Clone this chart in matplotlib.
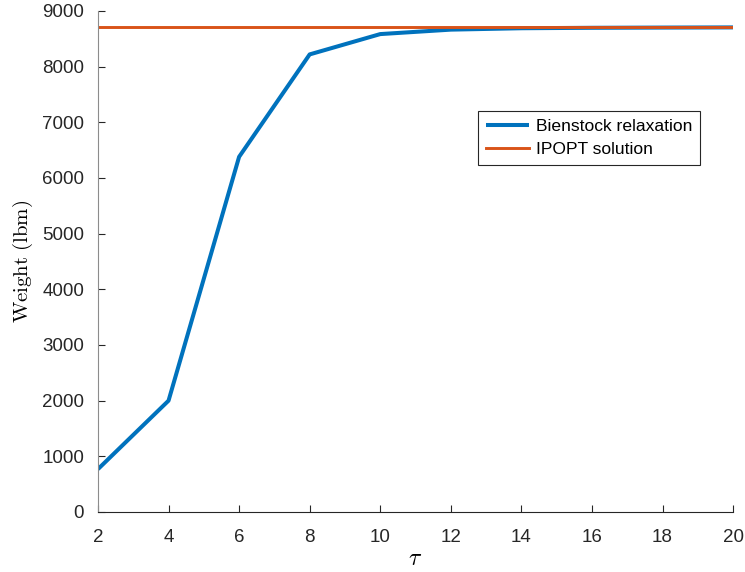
import numpy as np
import matplotlib.pyplot as plt
import matplotlib as mpl

mpl.rcParams['font.family'] = ['Liberation Sans', 'DejaVu Sans']
mpl.rcParams['mathtext.fontset'] = 'cm'

# data
tau = [2, 4, 6, 8, 10, 12, 14, 16, 18, 20]
bienstock = [770, 2000, 6380, 8220, 8585, 8665, 8690, 8698, 8702, 8705]
ipopt = 8710

fig = plt.figure(figsize=(7.45, 5.72), dpi=100)
ax = fig.add_axes([0.1315, 0.1049, 0.8525, 0.8759])

ax.plot(tau, bienstock, color='#0072BD', lw=2.9, label='Bienstock relaxation', solid_capstyle='butt')
ax.plot([tau[0], tau[-1]], [ipopt, ipopt], color='#D95319', lw=2.1, label='IPOPT solution')

ax.set_xlim(2, 20)
ax.set_ylim(0, 9000)
ax.set_xticks(np.arange(2, 21, 2))
ax.set_yticks(np.arange(0, 9001, 1000))

for s in ['top', 'right']:
    ax.spines[s].set_visible(False)
ax.spines['left'].set_color('#8c8c8c')
ax.spines['bottom'].set_color('#262626')
ax.tick_params(direction='in', length=5, width=0.8, color='#262626',
               labelsize=13.5, labelcolor='#262626')
ax.tick_params(axis='y', pad=10)
ax.tick_params(axis='x', pad=12)

ax.set_ylabel(r'$\mathrm{Weight\ (lbm)}$', fontsize=15, labelpad=5)
ax.set_xlabel(r'$\tau$', fontsize=17, labelpad=2)

leg = ax.legend(loc='upper left', bbox_to_anchor=(0.598, 0.80), borderaxespad=0,
                fontsize=12.6, fancybox=False, edgecolor='#262626', framealpha=1,
                handlelength=2.5, handletextpad=0.35, borderpad=0.45, labelspacing=0.45)
leg.get_frame().set_linewidth(0.8)

fig.savefig('out.png', dpi=100)
